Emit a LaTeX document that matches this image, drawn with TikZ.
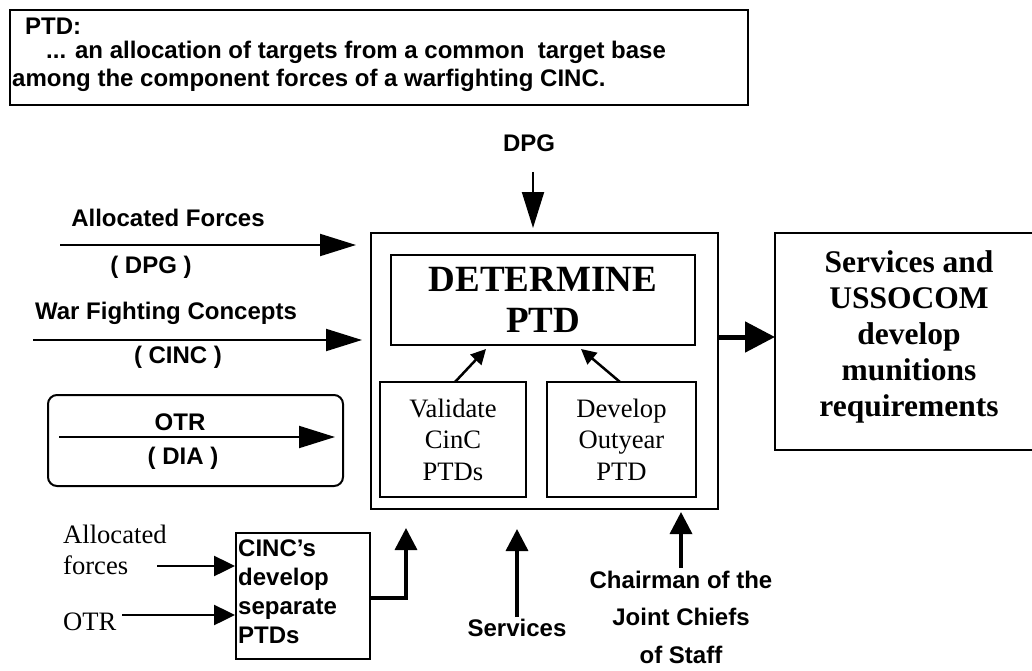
\documentclass[tikz,border=0pt]{standalone}
\usepackage{fontspec}
\setmainfont{Liberation Serif}
\setsansfont{Liberation Sans}
\usetikzlibrary{arrows.meta}
\tikzset{
  box/.style={draw, line width=2pt, inner sep=0pt},
  lab/.style={font=\sffamily\bfseries\fontsize{24}{28}\selectfont, inner sep=0pt},
  serif/.style={font=\rmfamily\fontsize{26.6}{31.5}\selectfont, inner sep=0pt},
  bigtip/.style={-{Triangle[length=36pt,width=22pt]}, line width=2pt},
  medtip/.style={-{Triangle[length=22pt,width=22pt]}, line width=3.5pt},
  smalltip/.style={-{Triangle[length=21pt,width=20pt]}, line width=2.5pt},
  intip/.style={-{Triangle[length=15pt,width=15pt]}, line width=2.5pt},
  fattip/.style={-{Triangle[length=30pt,width=30pt]}, line width=5pt},
}
\begin{document}
\begin{tikzpicture}[x=1pt,y=-1pt]
\useasboundingbox[fill=white] (0,0) rectangle (1032,671);

% top definition box
\node[box, minimum width=738pt, minimum height=95pt] (topbox) at (379,57.5) {};
\node[lab, anchor=west] (ptd) at (25,26) {PTD:};
\node[lab, anchor=west] (def1) at (46,52) {... an allocation of targets from a common\ \ target base};
\node[lab, anchor=west] (def2) at (12,80) {among the component forces of a warfighting CINC.};

% main box
\node[box, minimum width=347pt, minimum height=276pt] (main) at (544.5,371) {};
\node[box, minimum width=304pt, minimum height=90pt, align=center,
      font=\rmfamily\bfseries\fontsize{37}{41}\selectfont] (det) at (543,300) {DETERMINE\\PTD};
\node[box, minimum width=146pt, minimum height=115pt, align=center, serif] (val) at (453,439.5) {Validate\\CinC\\PTDs};
\node[box, minimum width=149pt, minimum height=115pt, align=center, serif] (dev) at (621.5,439.5) {Develop\\Outyear\\PTD};

% services box (right edge off the page)
\draw[line width=2pt] (1040,233) -- (775,233) -- (775,450) -- (1040,450);
\node[align=center, inner sep=0pt, font=\rmfamily\bfseries\fontsize{31.5}{36}\selectfont] (svc) at (909,337)
  {Services and\\USSOCOM\\develop\\munitions\\requirements};

% OTR rounded box
\node[box, rounded corners=9pt, minimum width=295pt, minimum height=91pt] (otrbox) at (195.5,440.5) {};

% CINC box
\node[box, minimum width=134pt, minimum height=126pt] (cinc) at (303,596) {};
\node[lab, anchor=west, align=left, font=\sffamily\bfseries\fontsize{24}{29}\selectfont] (cinctext) at (238,592)
  {CINC's\\develop\\separate\\PTDs};

% labels
\node[lab] (dpg) at (529,143) {DPG};
\node[lab] (aflab) at (168,218) {Allocated Forces};
\node[lab] (afsrc) at (151,267) {( DPG )};
\node[lab] (wflab) at (166,313) {War Fighting Concepts};
\node[lab] (wfsrc) at (178,357) {( CINC )};
\node[lab] (otrlab) at (180,422) {OTR};
\node[lab] (otrsrc) at (183,458) {( DIA )};
\node[serif, anchor=west, align=left] (alloc) at (63,550) {Allocated\\forces};
\node[serif, anchor=west] (otr2) at (63,622) {OTR};
\node[lab] (servlab) at (517,628) {Services};
\node[lab, align=center, font=\sffamily\bfseries\fontsize{24}{37.5}\selectfont] (cjcs) at (681,617)
  {Chairman of the\\Joint Chiefs\\of Staff};

% connector end points
\coordinate (af0) at (60,245);   \coordinate (af1) at (356,245);
\coordinate (wf0) at (33,340);   \coordinate (wf1) at (362,340);
\coordinate (ot0) at (59,437);   \coordinate (ot1) at (335,437);
\coordinate (dp0) at (533,172);  \coordinate (dp1) at (533,228);
\coordinate (al0) at (157,566);
\coordinate (or0) at (122,615);
\coordinate (cbend) at (406,598); \coordinate (c1) at (406,528);
\coordinate (sv0) at (517,617);  \coordinate (sv1) at (517,529);
\coordinate (cj0) at (681,568);  \coordinate (cj1) at (681,512);
\coordinate (m1) at (775,337);
\coordinate (v0) at (455,382);   \coordinate (v1) at (486,349);
\coordinate (d0) at (620,382);   \coordinate (d1) at (581,349);

% connectors
\draw[bigtip] (af0) -- (af1);
\draw[bigtip] (wf0) -- (wf1);
\draw[bigtip] (ot0) -- (ot1);
\draw[bigtip] (dp0) -- (dp1);
\draw[smalltip] (al0) -- (al0 -| cinc.west);
\draw[smalltip] (or0) -- (or0 -| cinc.west);
\draw[medtip] (cinc.east |- cbend) -- (cbend) -- (c1);
\draw[medtip] (sv0) -- (sv1);
\draw[medtip] (cj0) -- (cj1);
\draw[fattip] (main.east |- m1) -- (m1);
\draw[intip] (v0) -- (v1);
\draw[intip] (d0) -- (d1);
\end{tikzpicture}
\end{document}
